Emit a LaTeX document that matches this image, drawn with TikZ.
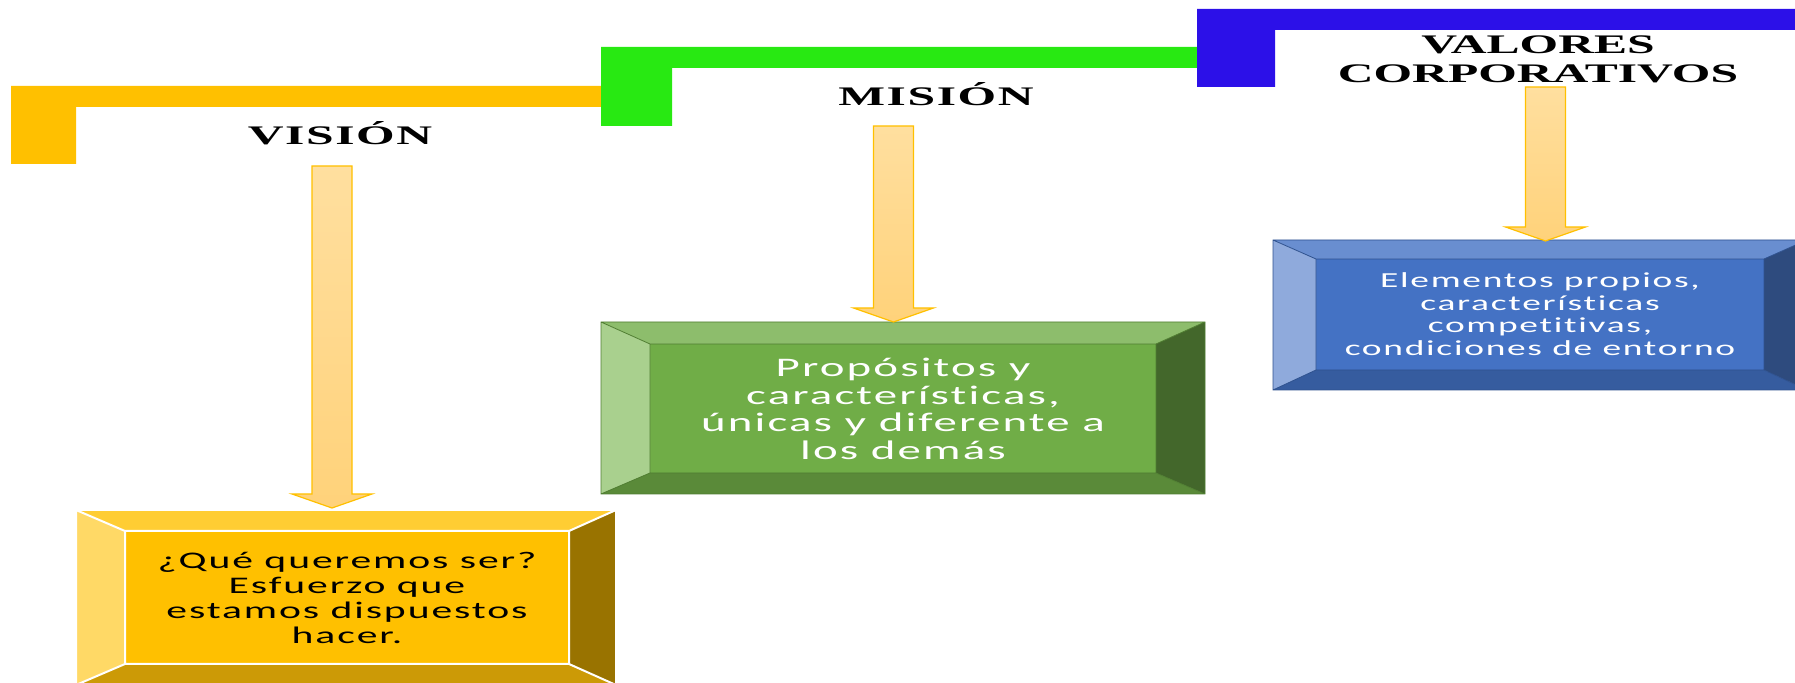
\documentclass[tikz,border=0pt]{standalone}
\usepackage{fontspec}
\setmainfont{Liberation Serif}
\newfontfamily\titlefont[FakeStretch=1.85]{Liberation Serif}
\newfontfamily\boxfont[FakeStretch=1.75,LetterSpace=8,Ligatures=NoCommon]{Carlito}
\definecolor{visbar}{HTML}{FFC000}
\definecolor{misbar}{HTML}{28E912}
\definecolor{valbar}{HTML}{2C10E8}
\definecolor{arrowtop}{HTML}{FFDF9F}
\definecolor{arrowbot}{HTML}{FFD27A}
\definecolor{arrowedge}{HTML}{FFC000}
% yellow box
\definecolor{ylface}{HTML}{FFC000}
\definecolor{yltop}{HTML}{FFCD33}
\definecolor{ylleft}{HTML}{FFD966}
\definecolor{ylright}{HTML}{997300}
\definecolor{ylbot}{HTML}{CC9A06}
\definecolor{ylline}{HTML}{FFFFFF}
% green box
\definecolor{grface}{HTML}{70AD47}
\definecolor{grtop}{HTML}{8DBD6C}
\definecolor{grleft}{HTML}{A9D08E}
\definecolor{grright}{HTML}{43672B}
\definecolor{grbot}{HTML}{5A8A39}
\definecolor{grline}{HTML}{507E32}
% blue box
\definecolor{blface}{HTML}{4472C4}
\definecolor{bltop}{HTML}{698ED0}
\definecolor{blleft}{HTML}{8FAADC}
\definecolor{blright}{HTML}{2E4B7E}
\definecolor{blbot}{HTML}{365C9F}
\definecolor{blline}{HTML}{2F528F}

\newcommand\bevelbox[9]{%
\fill[#9face] (#5,#6) rectangle (#7,#8);
\fill[#9top] (#1,#2) -- (#3,#2) -- (#7,#6) -- (#5,#6) -- cycle;
\fill[#9left] (#1,#2) -- (#5,#6) -- (#5,#8) -- (#1,#4) -- cycle;
\fill[#9right] (#3,#2) -- (#7,#6) -- (#7,#8) -- (#3,#4) -- cycle;
\fill[#9bot] (#1,#4) -- (#5,#8) -- (#7,#8) -- (#3,#4) -- cycle;
\draw[#9line] (#1,#2) rectangle (#3,#4) (#5,#6) rectangle (#7,#8)
 (#1,#2) -- (#5,#6) (#3,#2) -- (#7,#6) (#1,#4) -- (#5,#8) (#3,#4) -- (#7,#8);
}
\newcommand\blockarrow[2]{%
\draw[arrowline] ([xshift=-10pt]#1) -- ([xshift=10pt]#1) -- ([xshift=10pt,yshift=7pt]#2)
 -- ([xshift=20pt,yshift=7pt]#2) -- (#2) -- ([xshift=-20pt,yshift=7pt]#2)
 -- ([xshift=-10pt,yshift=7pt]#2) -- cycle;
}

\begin{document}
\begin{tikzpicture}[
x=0.5pt,y=-0.5pt,
titletext/.style={inner sep=0pt,font=\titlefont\bfseries\fontsize{13.4}{14.5}\selectfont},
boxtext/.style={inner sep=0pt,align=center},
arrowline/.style={draw=arrowedge,line width=0.6pt,top color=arrowtop,bottom color=arrowbot}
]
\clip (0,0) rectangle (1795,683);
% brackets
\fill[visbar] (11,86) -- (601,86) -- (601,107) -- (76,107) -- (76,164) -- (11,164) -- cycle;
\fill[misbar] (601,47) -- (1197,47) -- (1197,68) -- (672,68) -- (672,126) -- (601,126) -- cycle;
\fill[valbar] (1197,9) -- (1795,9) -- (1795,30) -- (1275,30) -- (1275,87) -- (1197,87) -- cycle;
\node[titletext,anchor=base] (vision) at (340,145) {\addfontfeature{LetterSpace=6}VISIÓN};
\node[titletext,anchor=base] (mision) at (936,106) {\addfontfeature{LetterSpace=6}MISIÓN};
\node[titletext,align=center] (valores) at (1538,59) {VALORES\\CORPORATIVOS};

% boxes
\begin{scope}[line width=1pt]
\bevelbox{76}{510}{616}{685}{125}{531}{569}{664}{yl}
\end{scope}
\bevelbox{601}{322}{1205}{494}{650}{344}{1156}{473}{gr}
\bevelbox{1273}{240}{1807}{390}{1316}{259}{1764}{370}{bl}
\node[boxtext,text=black,font=\boxfont\fontsize{11.9}{12.6}\selectfont] (visbox) at (347,598)
 {¿Qué queremos ser?\\Esfuerzo que\\estamos dispuestos\\hacer.};
\node[boxtext,text=white,font=\boxfont\fontsize{13.4}{13.8}\selectfont] (misbox) at (903,409)
 {Propósitos y\\características,\\únicas y diferente a\\los demás};
\node[boxtext,text=white,font=\boxfont\fontsize{10.7}{11.3}\selectfont] (valbox) at (1540,314)
 {Elementos propios,\\características\\competitivas,\\condiciones de entorno};

% arrows
\coordinate (vistop) at (332,166);
\coordinate (vistip) at (332,508);
\coordinate (mistop) at (893.5,126);
\coordinate (mistip) at (893.5,322);
\coordinate (valtop) at (1545.5,87);
\coordinate (valtip) at (1545.5,241);
\foreach \a in {vis,mis,val}
{
\blockarrow{\a top}{\a tip}
}
\end{tikzpicture}
\end{document}
